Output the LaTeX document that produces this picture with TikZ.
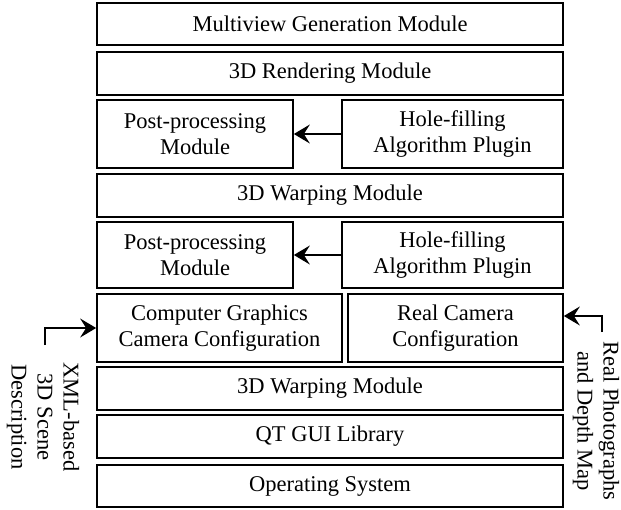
\documentclass[tikz,border=0pt]{standalone}
\usepackage{fontspec}
\setmainfont{Liberation Serif}
\usetikzlibrary{arrows.meta}
\begin{document}
\begin{tikzpicture}[x=1pt,y=-1pt,
  box/.style={draw, line width=1.7pt, inner sep=0pt, align=center,
    font=\fontsize{22.5}{26}\selectfont},
  side/.style={rotate=-90, inner sep=0pt, align=center,
    font=\fontsize{22.5}{26}\selectfont},
  arr/.style={line width=1.7pt, -{Stealth[length=16pt,width=19pt,inset=6pt]}}]
\useasboundingbox (0,0) rectangle (621,509);
\node[box, minimum width=466pt, minimum height=42pt] (mv) at (330,24) {Multiview Generation Module};
\node[box, minimum width=466pt, minimum height=43pt] (rend) at (330,73.5) {3D Rendering Module};
\node[box, minimum width=196pt, minimum height=68pt] (pp1) at (195,134) {Post-processing\\Module};
\node[box, minimum width=221pt, minimum height=68pt] (hf1) at (452.5,134) {Hole-filling\\Algorithm Plugin};
\node[box, minimum width=466pt, minimum height=43pt] (warp1) at (330,195.5) {3D Warping Module};
\node[box, minimum width=196pt, minimum height=66pt] (pp2) at (195,255) {Post-processing\\Module};
\node[box, minimum width=221pt, minimum height=66pt] (hf2) at (452.5,255) {Hole-filling\\Algorithm Plugin};
\node[box, minimum width=245pt, minimum height=68pt] (cg) at (219.5,328) {Computer Graphics\\Camera Configuration};
\node[box, minimum width=215pt, minimum height=68pt] (rc) at (455.5,328) {Real Camera\\Configuration};
\node[box, minimum width=466pt, minimum height=43pt] (warp2) at (330,388.5) {3D Warping Module};
\node[box, minimum width=466pt, minimum height=43pt] (qt) at (330,436.5) {QT GUI Library};
\node[box, minimum width=466pt, minimum height=42pt] (os) at (330,486) {Operating System};
\draw[arr] (hf1.west) -- (pp1.east);
\draw[arr] (hf2.west) -- (pp2.east);
\node[side] (xml) at (43,417) {XML-based\\3D Scene\\Description};
\node[side] (real) at (596,421) {Real Photographs\\and Depth Map};
\coordinate (lin) at (45,345);
\coordinate (rin) at (602,332);
\draw[arr] (lin) |- (cg.west);
\draw[arr] (rin) |- ([yshift=12pt]rc.east);
\end{tikzpicture}
\end{document}
